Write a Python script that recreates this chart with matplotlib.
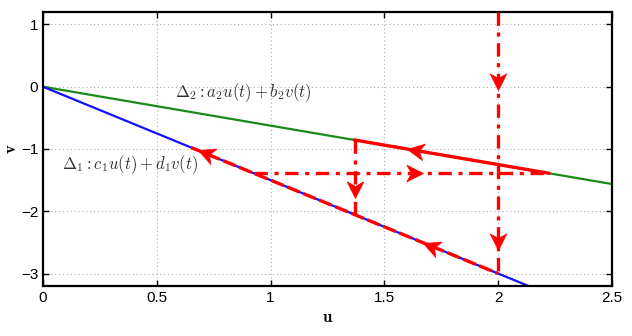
import matplotlib
matplotlib.use("Agg")
import matplotlib.pyplot as plt
from matplotlib.path import Path
from matplotlib.markers import MarkerStyle
from matplotlib.transforms import Affine2D
import numpy as np

plt.rcParams['mathtext.fontset'] = 'cm'
plt.rcParams['font.family'] = ['Liberation Sans', 'DejaVu Sans']

# Data
green_x = [0.0, 2.5]
green_y = [0.0, -1.5625]
blue_x = [0.0, 2.1333]
blue_y = [0.0, -3.2]

red_green_x = [1.37, 2.222]
red_green_y = [-0.856, -1.389]
red_blue_x = [0.65, 2.0]
red_blue_y = [-0.975, -3.0]

hdash_x = [0.926, 2.222]
hdash_y = [-1.389, -1.389]
vdash1_x = [1.37, 1.37]
vdash1_y = [-0.856, -2.055]
vdash2_x = [2.0, 2.0]
vdash2_y = [1.2, -3.0]

# arrow heads: tip position and direction (dx, dy in data units)
arrow_tip_x = [1.60, 0.68, 1.67, 1.67, 1.37, 2.0, 2.0]
arrow_tip_y = [-1.0, -1.02, -2.505, -1.389, -1.78, -0.05, -2.62]
arrow_dx = [-1.0, -1.0, -1.0, 1.0, 0.0, 0.0, 0.0]
arrow_dy = [0.625, 1.5, 1.5, 0.0, -1.0, -1.0, -1.0]

xticks = [0, 0.5, 1, 1.5, 2, 2.5]
xticklabels = ['0', '0.5', '1', '1.5', '2', '2.5']
yticks = [-3, -2, -1, 0, 1]
yticklabels = ['\u22123', '\u22122', '\u22121', '0', '1']

fig = plt.figure(figsize=(6.32, 3.36), dpi=100)
ax = fig.add_axes([43/632, 1-286/336, (612-43)/632, (286-12)/336])
ax.set_xlim(0, 2.5)
ax.set_ylim(-3.2, 1.2)

ax.plot(green_x, green_y, color='#1a8a1a', lw=1.6, zorder=2)
ax.plot(blue_x, blue_y, color='#1010ff', lw=1.6, zorder=2)
ax.plot(red_green_x, red_green_y, color='red', lw=2.4, zorder=3)
ax.plot(red_blue_x, red_blue_y, color='red', lw=2.4, dashes=(4, 1.2), zorder=3)
for xs, ys in [(hdash_x, hdash_y), (vdash1_x, vdash1_y), (vdash2_x, vdash2_y)]:
    ax.plot(xs, ys, color='red', lw=2.4, dashes=(4, 2, 1.2, 2), zorder=3)

head = Path([(0, 0), (-1.0, 0.5), (-0.72, 0), (-1.0, -0.5), (0, 0)],
            [Path.MOVETO, Path.LINETO, Path.LINETO, Path.LINETO, Path.CLOSEPOLY])
sx = ax.transData.get_matrix()[0, 0]
sy = ax.transData.get_matrix()[1, 1]
for x, y, dx, dy in zip(arrow_tip_x, arrow_tip_y, arrow_dx, arrow_dy):
    ang = np.degrees(np.arctan2(dy * sy, dx * sx))
    m = MarkerStyle(head, transform=Affine2D().rotate_deg(ang))
    ax.plot([x], [y], marker=m, markersize=24, color='red', mec='red', mew=0.5,
            linestyle='none', zorder=4)

ax.text(0.58, -0.16, r'$\Delta_2 : a_2u(t)+b_2v(t)$', fontsize=12, color='#333333')
ax.text(0.083, -1.32, r'$\Delta_1 : c_1u(t)+d_1v(t)$', fontsize=12, color='#333333')

ax.set_xticks(xticks)
ax.set_xticklabels(xticklabels)
ax.set_yticks(yticks)
ax.set_yticklabels(yticklabels)
ax.tick_params(direction='in', top=True, right=True, labelsize=11, length=4, width=1)
ax.grid(True, linestyle=(0, (1, 2.5)), color='#aaaaaa', lw=0.8)
for s in ax.spines.values():
    s.set_linewidth(1.6)
ax.set_xlabel(r'$\mathbf{u}$', fontsize=12, labelpad=4)
ax.set_ylabel(r'$\mathbf{v}$', fontsize=12, labelpad=1, rotation=90)

fig.savefig('out.png', dpi=100)
